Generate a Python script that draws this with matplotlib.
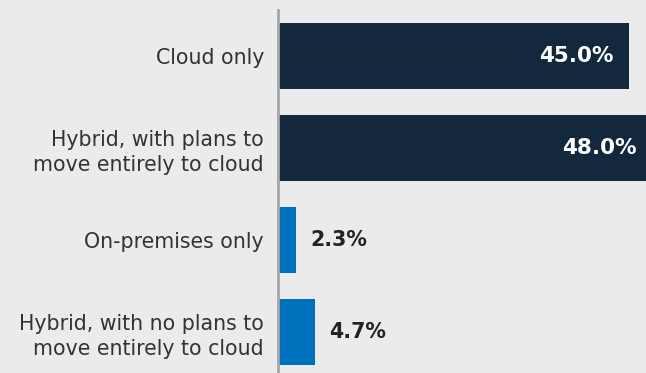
import matplotlib.pyplot as plt

categories = ["Cloud only", "Hybrid, with plans to\nmove entirely to cloud",
              "On-premises only", "Hybrid, with no plans to\nmove entirely to cloud"]
values = [45.0, 48.0, 2.3, 4.7]
colors = ["#13283d", "#13283d", "#0071bc", "#0071bc"]

bg = "#ebebed"
fig = plt.figure(figsize=(6.46, 3.73), dpi=100, facecolor=bg)
ax = fig.add_axes([278 / 646, 0, 1 - 278 / 646, 1 - 10 / 373])
ax.set_facecolor(bg)

y = range(len(values))
ax.barh(y, values, height=0.72, color=colors)
ax.set_xlim(0, 47.2)
ax.set_ylim(3.446, -0.5)

ax.set_yticks(list(y))
ax.set_yticklabels(categories, fontsize=14.8, color="#333333", linespacing=1.3)
ax.tick_params(axis="y", length=0, pad=10)
ax.set_xticks([])

for s in ["top", "right", "bottom"]:
    ax.spines[s].set_visible(False)
ax.spines["left"].set_color("#a6a6a6")
ax.spines["left"].set_linewidth(2)

for i, v in enumerate(values):
    if v > 20:
        ax.text(v - 2.0, i, f"{v:.1f}%", ha="right", va="center",
                color="white", fontsize=15.5, fontweight="bold")
    else:
        ax.text(v + 1.8, i, f"{v:.1f}%", ha="left", va="center",
                color="#222222", fontsize=14.8, fontweight="bold")

fig.savefig("out.png", dpi=100, facecolor=bg)
